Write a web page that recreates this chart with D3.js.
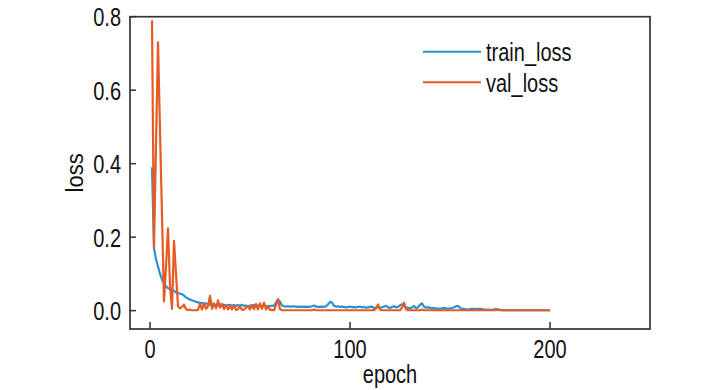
<!DOCTYPE html>
<html>
<head>
<meta charset="utf-8">
<script src="https://cdn.jsdelivr.net/npm/d3@7"></script>
<style>
  html, body { margin: 0; padding: 0; background: #fff; }
  svg { display: block; }
  text { font-family: "Liberation Sans", Arial, sans-serif; fill: #111; }
</style>
</head>
<body>
<svg id="chart" width="728" height="390"></svg>
<script>
// ---- data ----
const seriesNames = ["train_loss", "val_loss"];
const trainLoss = [
  0.39,0.17,0.14,0.12,0.10,0.085,0.074,0.066,0.061,0.058,
  0.056,0.054,0.05,0.048,0.046,0.045,0.041,0.036,0.033,0.03,
  0.028,0.026,0.024,0.023,0.02,0.021,0.018,0.02,0.017,0.016,
  0.018,0.015,0.016,0.014,0.017,0.015,0.016,0.014,0.015,0.016,
  0.014,0.015,0.013,0.015,0.014,0.016,0.013,0.014,0.012,0.014,
  0.013,0.015,0.012,0.014,0.013,0.012,0.014,0.012,0.013,0.012,
  0.014,0.013,0.022,0.031,0.024,0.014,0.012,0.011,0.012,0.011,
  0.011,0.012,0.011,0.01,0.011,0.01,0.011,0.01,0.01,0.011,
  0.012,0.014,0.011,0.01,0.01,0.011,0.01,0.012,0.017,0.024,
  0.022,0.013,0.011,0.012,0.01,0.011,0.01,0.009,0.01,0.011,
  0.009,0.01,0.009,0.01,0.011,0.009,0.01,0.008,0.009,0.01,
  0.011,0.007,0.008,0.01,0.008,0.009,0.011,0.013,0.009,0.007,
  0.01,0.012,0.009,0.01,0.014,0.018,0.013,0.009,0.008,0.006,
  0.009,0.013,0.006,0.009,0.016,0.02,0.011,0.008,0.009,0.008,
  0.006,0.007,0.006,0.005,0.005,0.006,0.007,0.006,0.005,0.006,
  0.007,0.009,0.012,0.013,0.008,0.004,0.005,0.003,0.003,0.004,
  0.005,0.005,0.004,0.005,0.005,0.004,0.003,0.002,0.003,0.002,
  0.002,0.003,0.004,0.003,0.002,0.001,0.001,0.001,0.001,0.001,
  0.001,0.001,0.001,0.001,0.001,0.001,0.001,0.001,0.001,0.001,
  0.001,0.001,0.001,0.001,0.001,0.001,0.001,0.001,0.001,0.001
];
const valLoss = [
  0.79,0.17,0.45,0.73,0.49,0.26,0.025,0.12,0.224,0.07,
  0.005,0.19,0.10,0.012,0.006,0.01,0.016,0.004,0.002,0.002,
  0.001,0.001,0.001,0.002,0.018,0.003,0.02,0.005,0.012,0.04,
  0.005,0.02,0.006,0.028,0.008,0.018,0.004,0.015,0.003,0.012,
  0.003,0.015,0.002,0.004,0.012,0.002,0.003,0.008,0.012,0.003,
  0.015,0.004,0.018,0.003,0.02,0.005,0.022,0.003,0.012,0.002,
  0.002,0.001,0.015,0.03,0.004,0.001,0.001,0.001,0.001,0.001,
  0.001,0.001,0.001,0.001,0.001,0.001,0.001,0.001,0.001,0.001,
  0.001,0.003,0.001,0.001,0.001,0.001,0.001,0.001,0.001,0.001,
  0.001,0.001,0.001,0.001,0.001,0.001,0.001,0.001,0.001,0.001,
  0.001,0.001,0.001,0.001,0.001,0.001,0.001,0.001,0.001,0.001,
  0.001,0.001,0.006,0.017,0.003,0.001,0.001,0.001,0.001,0.001,
  0.001,0.001,0.001,0.001,0.001,0.008,0.022,0.004,0.001,0.001,
  0.001,0.001,0.001,0.001,0.001,0.003,0.001,0.001,0.001,0.001,
  0.001,0.001,0.001,0.001,0.001,0.001,0.001,0.001,0.001,0.001,
  0.001,0.001,0.001,0.001,0.001,0.001,0.001,0.001,0.001,0.001,
  0.001,0.001,0.001,0.001,0.001,0.001,0.001,0.001,0.001,0.001,
  0.001,0.001,0.001,0.003,0.001,0.001,0.001,0.001,0.001,0.001,
  0.001,0.001,0.001,0.001,0.001,0.001,0.001,0.001,0.001,0.001,
  0.001,0.001,0.001,0.001,0.001,0.001,0.001,0.001,0.001,0.0005
];
const xTicks = [0, 100, 200];
const yTicks = [0.0, 0.2, 0.4, 0.6, 0.8];
const xLabel = "epoch";
const yLabel = "loss";

// ---- styles ----
const colors = { train_loss: "#2b8fd6", val_loss: "#e65a23" };
const FS = 20, SY = 1.3;

const svg = d3.select("#chart");
const x = d3.scaleLinear().domain([-10, 250]).range([130, 650]);
const y = d3.scaleLinear().domain([-0.05, 0.8]).range([329, 16.7]);

const series = [
  { name: "train_loss", values: trainLoss },
  { name: "val_loss", values: valLoss }
];

const line = d3.line().x((d, i) => x(i + 1)).y(d => y(d));

svg.append("g").selectAll("path").data(series).join("path")
  .attr("d", d => line(d.values))
  .attr("fill", "none")
  .attr("stroke", d => colors[d.name])
  .attr("stroke-width", 2.2)
  .attr("stroke-linejoin", "round");

// frame
svg.append("rect")
  .attr("x", x.range()[0]).attr("y", y.range()[1])
  .attr("width", x.range()[1] - x.range()[0])
  .attr("height", y.range()[0] - y.range()[1])
  .attr("fill", "none").attr("stroke", "#333").attr("stroke-width", 1.7);

// ticks (inward)
svg.append("g").selectAll("line").data(xTicks).join("line")
  .attr("x1", d => x(d)).attr("x2", d => x(d))
  .attr("y1", y.range()[0]).attr("y2", y.range()[0] - 7)
  .attr("stroke", "#333").attr("stroke-width", 1.5);
svg.append("g").selectAll("line").data(yTicks).join("line")
  .attr("x1", x.range()[0]).attr("x2", x.range()[0] + 6)
  .attr("y1", d => y(d)).attr("y2", d => y(d))
  .attr("stroke", "#333").attr("stroke-width", 1.5);

function stext(g, str, tx, ty, anchor) {
  return g.append("text")
    .attr("transform", `translate(${tx},${ty}) scale(1,${SY})`)
    .attr("text-anchor", anchor)
    .attr("font-size", FS)
    .text(str);
}

const lab = svg.append("g");
yTicks.forEach(v => stext(lab, d3.format(".1f")(v), 121, y(v) + 7.2 * SY, "end"));
xTicks.forEach(v => stext(lab, String(v), x(v), 339 + 14.3 * SY, "middle"));
stext(lab, xLabel, (x.range()[0] + x.range()[1]) / 2, 383, "middle");
lab.append("text")
  .attr("transform", `translate(83,${(y.range()[0] + y.range()[1]) / 2}) scale(1.1,1) rotate(-90)`)
  .attr("text-anchor", "middle").attr("font-size", FS * SY * 0.85).text(yLabel);

// legend
const lg = svg.append("g");
series.forEach((s, i) => {
  const ly = 51.7 + i * 30.6;
  lg.append("line").attr("x1", 423).attr("x2", 481).attr("y1", ly).attr("y2", ly)
    .attr("stroke", colors[s.name]).attr("stroke-width", 2);
  stext(lg, s.name, 486, ly + 7.2 * SY, "start");
});
</script>
</body>
</html>
